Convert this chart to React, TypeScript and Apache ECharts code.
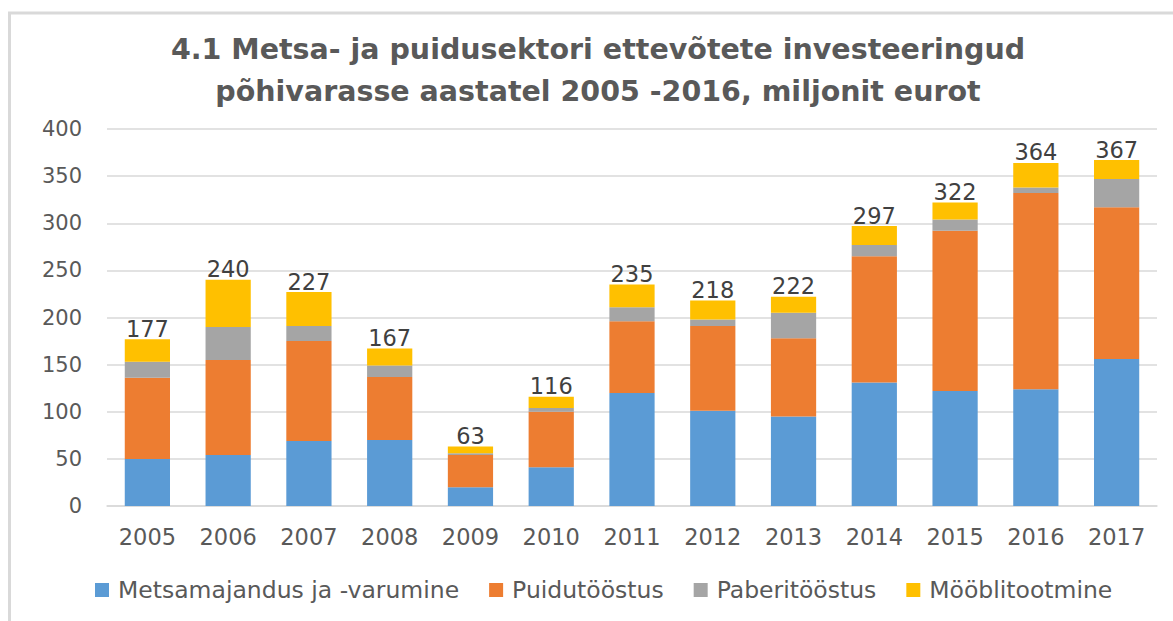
import React, { useEffect, useRef } from "react";
import * as echarts from "echarts";

const years = ["2005", "2006", "2007", "2008", "2009", "2010", "2011", "2012", "2013", "2014", "2015", "2016", "2017"];
const metsamajandus = [50, 54, 69, 70, 20, 41, 120, 101, 95, 131, 122, 124, 156];
const puidutoostus = [86, 101, 106, 67, 34, 59, 76, 90, 83, 134, 170, 208, 161];
const paberitoostus = [17, 35, 16, 12, 2, 4, 15, 7, 27, 12, 12, 6, 30];
const mooblitootmine = [24, 50, 36, 18, 7, 12, 24, 20, 17, 20, 18, 26, 20];
const totals = [177, 240, 227, 167, 63, 116, 235, 218, 222, 297, 322, 364, 367];
const seriesNames = ["Metsamajandus ja -varumine", "Puidutööstus", "Paberitööstus", "Mööblitootmine"];
const yTicks = { min: 0, max: 400, interval: 50 };

const FONT = "DejaVu Sans";
const TEXT = "#595959";

export default function App() {
  const ref = useRef<HTMLDivElement>(null);
  useEffect(() => {
    if (!ref.current) return;
    const chart = echarts.init(ref.current, null, { renderer: "svg" });
    const colors = ["#5B9BD5", "#ED7D31", "#A5A5A5", "#FFC000"];
    const datasets = [metsamajandus, puidutoostus, paberitoostus, mooblitootmine];
    chart.setOption({
      animation: false,
      backgroundColor: "#ffffff",
      color: colors,
      title: {
        text: "4.1 Metsa- ja puidusektori ettevõtete investeeringud\npõhivarasse aastatel 2005 -2016, miljonit eurot",
        left: 593,
        top: 23,
        textAlign: "center",
        textStyle: {
          fontFamily: FONT,
          fontWeight: "bold",
          fontSize: 28.5,
          lineHeight: 42,
          color: TEXT,
        },
      },
      legend: {
        data: seriesNames,
        left: 90,
        top: 573,
        icon: "rect",
        itemWidth: 14,
        itemHeight: 14,
        itemGap: 30,
        textStyle: { fontFamily: FONT, fontSize: 23.5, color: TEXT, padding: [0, 0, 0, 4] },
      },
      grid: { left: 107, right: 16, top: 129, bottom: 115 },
      xAxis: {
        type: "category",
        data: years,
        axisTick: { show: false },
        axisLine: { lineStyle: { color: "#D9D9D9", width: 1.5 } },
        axisLabel: { fontFamily: FONT, fontSize: 22.5, color: TEXT, margin: 19 },
      },
      yAxis: {
        type: "value",
        min: yTicks.min,
        max: yTicks.max,
        interval: yTicks.interval,
        axisLine: { show: false },
        axisTick: { show: false },
        splitLine: { lineStyle: { color: "#D9D9D9", width: 1.5 } },
        axisLabel: { fontFamily: FONT, fontSize: 21, color: TEXT, margin: 25 },
      },
      graphic: [
        { type: "line", shape: { x1: 9.5, y1: 13, x2: 9.5, y2: 621 }, style: { stroke: "#D9D9D9", lineWidth: 3 } },
        { type: "line", shape: { x1: 8, y1: 13, x2: 1173, y2: 13 }, style: { stroke: "#D9D9D9", lineWidth: 3 } },
      ],
      series: datasets.map((d, i) => ({
        name: seriesNames[i],
        type: "bar",
        stack: "total",
        data: d,
        barCategoryGap: "44%",
        itemStyle: { color: colors[i] },
        label:
          i === 3
            ? {
                show: true,
                position: "top",
                distance: -1,
                fontFamily: FONT,
                fontSize: 22.5,
                color: "#404040",
                formatter: (p: any) => String(totals[p.dataIndex]),
              }
            : { show: false },
      })),
    });
    return () => chart.dispose();
  }, []);
  return (
    <div
      ref={ref}
      style={{ position: "fixed", left: 0, top: 0, width: 1173, height: 621 }}
    />
  );
}
